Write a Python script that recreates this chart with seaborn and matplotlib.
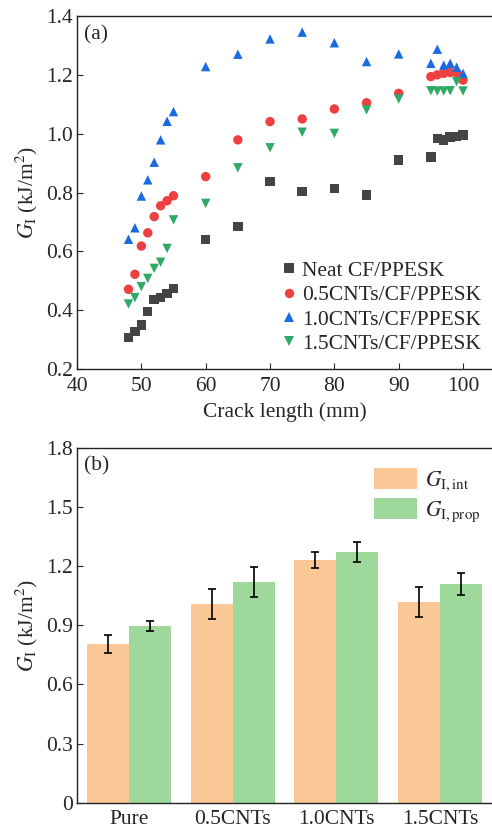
import matplotlib
matplotlib.use("Agg")
import matplotlib.pyplot as plt
import seaborn as sns
import pandas as pd

# crack length (mm) shared by all DCB series
crack = [48, 49, 50, 51, 52, 53, 54, 55, 60, 65, 70, 75, 80, 85, 90, 95, 96, 97, 98, 99, 100]

g_neat = [0.307, 0.327, 0.350, 0.395, 0.437, 0.443, 0.457, 0.474, 0.641, 0.684, 0.837,
          0.803, 0.814, 0.792, 0.911, 0.920, 0.984, 0.978, 0.988, 0.990, 0.995]
g_05 = [0.471, 0.522, 0.618, 0.663, 0.718, 0.755, 0.772, 0.789, 0.854, 0.979, 1.041,
        1.050, 1.084, 1.105, 1.137, 1.194, 1.200, 1.205, 1.208, 1.207, 1.182]
g_10 = [0.641, 0.680, 0.788, 0.843, 0.903, 0.979, 1.042, 1.075, 1.228, 1.270, 1.322,
        1.345, 1.309, 1.245, 1.271, 1.239, 1.287, 1.233, 1.239, 1.226, 1.205]
g_15 = [0.421, 0.443, 0.480, 0.508, 0.542, 0.563, 0.610, 0.707, 0.763, 0.884, 0.952,
        1.005, 1.001, 1.081, 1.118, 1.146, 1.145, 1.145, 1.146, 1.177, 1.145]

series_names = ["Neat CF/PPESK", "0.5CNTs/CF/PPESK", "1.0CNTs/CF/PPESK", "1.5CNTs/CF/PPESK"]
series_colors = ["#444444", "#ee4040", "#1a6be0", "#2eaa66"]
series_markers = ["s", "o", "^", "v"]

# panel (b)
groups = ["Pure", "0.5CNTs", "1.0CNTs", "1.5CNTs"]
g_int = [0.805, 1.007, 1.230, 1.017]
g_int_err = [0.045, 0.075, 0.040, 0.077]
g_prop = [0.896, 1.120, 1.270, 1.107]
g_prop_err = [0.026, 0.077, 0.052, 0.055]

FS = 15.5

sns.set_style("ticks")
plt.rcParams["font.family"] = ["Liberation Serif", "DejaVu Serif"]
plt.rcParams["mathtext.fontset"] = "stix"
plt.rcParams["font.size"] = FS
plt.rcParams["axes.edgecolor"] = "#222222"
plt.rcParams["axes.linewidth"] = 1.0

fig = plt.figure(figsize=(4.92, 8.33), dpi=100)
ax1 = fig.add_axes([0.1565, 0.557, 0.8435, 0.4238])
ax2 = fig.add_axes([0.1565, 0.0364, 0.8435, 0.4262])

# ---- (a) scatter
vals = [g_neat, g_05, g_10, g_15]
df = pd.DataFrame({
    "crack": crack * 4,
    "G": sum(vals, []),
    "sample": sum([[n] * len(crack) for n in series_names], []),
})
sns.scatterplot(data=df, x="crack", y="G", hue="sample", style="sample",
                hue_order=series_names, style_order=series_names,
                palette=dict(zip(series_names, series_colors)),
                markers=dict(zip(series_names, series_markers)),
                s=46, linewidth=0, ax=ax1)
ax1.set_xlim(40, 104.5)
ax1.set_ylim(0.2, 1.4)
ax1.set_xticks([40, 50, 60, 70, 80, 90, 100])
ax1.set_yticks([0.2, 0.4, 0.6, 0.8, 1.0, 1.2, 1.4])
ax1.set_yticklabels(["0.2", "0.4", "0.6", "0.8", "1.0", "1.2", "1.4"])
ax1.set_xlabel("Crack length (mm)", labelpad=4)
ax1.set_ylabel("$G_\\mathrm{I}$ (kJ/m$^2$)")
ax1.spines["right"].set_visible(False)
ax1.tick_params(axis="y", direction="in", length=4, labelsize=FS, pad=3)
ax1.tick_params(axis="x", direction="in", length=4, labelsize=FS, pad=6)
ax1.text(0.018, 0.975, "(a)", transform=ax1.transAxes, ha="left", va="top", fontsize=FS)
ax1.legend(loc="lower right", bbox_to_anchor=(1.01, 0.0), frameon=False,
           handlelength=0.6, handletextpad=0.3, labelspacing=0.2, borderaxespad=0.3,
           fontsize=FS, markerscale=1.0)

# ---- (b) bars
bdf = pd.DataFrame({
    "group": groups * 2,
    "G": g_int + g_prop,
    "kind": ["int"] * 4 + ["prop"] * 4,
})
sns.barplot(data=bdf, x="group", y="G", hue="kind", order=groups,
            hue_order=["int", "prop"], palette=["#fac896", "#9fd89b"],
            width=0.81, gap=0, errorbar=None, saturation=1, linewidth=0, ax=ax2)
errs = g_int_err + g_prop_err
for p, v, e in zip(ax2.patches[:8], g_int + g_prop, errs):
    ax2.errorbar(p.get_x() + p.get_width() / 2, v, yerr=e, fmt="none",
                 ecolor="black", elinewidth=1.2, capsize=3, capthick=1.2)
ax2.set_xlim(-0.5, 3.5)
ax2.set_ylim(0, 1.8)
ax2.set_yticks([0, 0.3, 0.6, 0.9, 1.2, 1.5, 1.8])
ax2.set_yticklabels(["0", "0.3", "0.6", "0.9", "1.2", "1.5", "1.8"])
ax2.set_xlabel("")
ax2.set_ylabel("$G_\\mathrm{I}$ (kJ/m$^2$)")
ax2.spines["right"].set_visible(False)
ax2.tick_params(axis="y", direction="in", length=4, labelsize=FS, pad=3)
ax2.tick_params(axis="x", direction="in", length=0, labelsize=FS, pad=5)
ax2.text(0.018, 0.975, "(b)", transform=ax2.transAxes, ha="left", va="top", fontsize=FS)
h, _ = ax2.get_legend_handles_labels()
for hh in h:
    hh.set_linewidth(0)
ax2.legend(h, ["$G_\\mathrm{I,int}$", "$G_\\mathrm{I,prop}$"], loc="upper right",
           bbox_to_anchor=(1.01, 0.985), frameon=False, handlelength=2.0, handleheight=1.1,
           handletextpad=0.4, labelspacing=0.25, borderaxespad=0.3, fontsize=FS)

fig.savefig("out.png", dpi=100)
